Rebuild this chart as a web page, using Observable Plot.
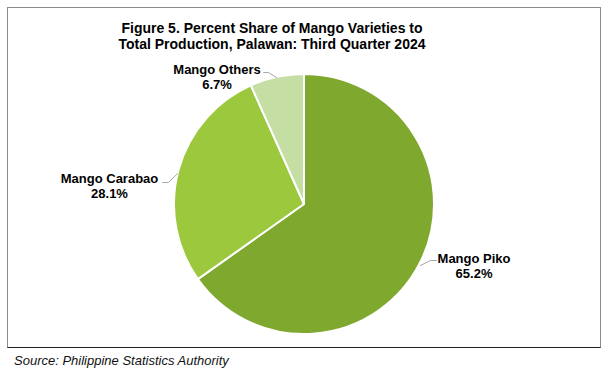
<!DOCTYPE html>
<html><head><meta charset="utf-8">
<script src="https://cdn.jsdelivr.net/npm/d3@7"></script>
<script src="https://cdn.jsdelivr.net/npm/@observablehq/plot@0.6"></script>
<style>
body{margin:0;background:#fff;width:610px;height:378px;position:relative;overflow:hidden;font-family:"Liberation Sans",Arial,sans-serif;}
#box{position:absolute;left:7px;top:7px;width:594px;height:341px;box-sizing:border-box;border:1px solid #8c8c8c;border-bottom-color:#222;}
#title{height:49px;box-sizing:border-box;padding-top:12px;width:528px;text-align:center;font-weight:bold;font-size:14px;color:#000;}
#title div{height:16px;line-height:16px;white-space:nowrap;}
#chart svg{display:block}
#source{position:absolute;left:14px;top:353px;font-style:italic;font-size:13px;line-height:15px;color:#111;}
</style></head><body>
<div id="box"><div id="title"><div>Figure 5. Percent Share of Mango Varieties to</div><div>Total Production, Palawan: Third Quarter 2024</div></div><div id="chart"></div></div>
<div id="source">Source: Philippine Statistics Authority</div>
<script>
// data
const varieties = ["Mango Piko", "Mango Carabao", "Mango Others"];
const shares = [65.2, 28.1, 6.7];
// styles
const colors = ["#7fa82f", "#9bc83c", "#c5dea4"];
// layout: label anchors and leader polylines in pie-radius units (center 0,0; radius 1)
const labelX = [1.304, -1.5, -0.673];
const labelY = [-0.472, 0.144, 0.982];
const leaderPts = [
  [[1.015, -0.431], [0.969, -0.431], [0.892, -0.469]],
  [[-1.092, 0.169], [-1.046, 0.169], [-0.977, 0.238]],
  [[-0.315, 1.015], [-0.277, 1.015], [-0.215, 0.977]]
];

const data = varieties.map((v, i) => ({variety: v, share: shares[i]}));
const labelRows = data.map((d, i) => ({x: labelX[i], y: labelY[i], text: `${d.variety}\n${d.share.toFixed(1)}%`}));
const leaderRows = leaderPts.flatMap((pts, k) => pts.map(([x, y]) => ({k, x, y})));

function pieMark(index, scales) {
  const {x, y} = scales;
  const cx = x(0), cy = y(0), r = x(1) - x(0);
  const arcs = d3.pie().sort(null).value(d => d.share)(data);
  const g = d3.create("svg:g").attr("transform", `translate(${cx},${cy})`);
  g.selectAll("path").data(arcs).join("path")
    .attr("d", d3.arc().innerRadius(0).outerRadius(r))
    .attr("fill", (d, i) => colors[i])
    .attr("stroke", "#fff")
    .attr("stroke-width", 2)
    .attr("stroke-linejoin", "round");
  return g.node();
}

const chart = Plot.plot({
  width: 592,
  height: 289,
  margin: 0,
  x: {domain: [-1, 1], range: [166, 426], axis: null},
  y: {domain: [-1, 1], range: [277, 17], axis: null},
  style: {fontFamily: "'Liberation Sans', Arial, sans-serif", background: "transparent", overflow: "visible"},
  marks: [
    pieMark,
    Plot.line(leaderRows, {x: "x", y: "y", z: "k", stroke: "#a6a6a6", strokeWidth: 1}),
    Plot.text(labelRows, {x: "x", y: "y", text: "text", fontWeight: "bold", fontSize: 13, lineHeight: 1.154, lineAnchor: "middle", fill: "#000"})
  ]
});
document.getElementById("chart").appendChild(chart);
</script>
</body></html>
